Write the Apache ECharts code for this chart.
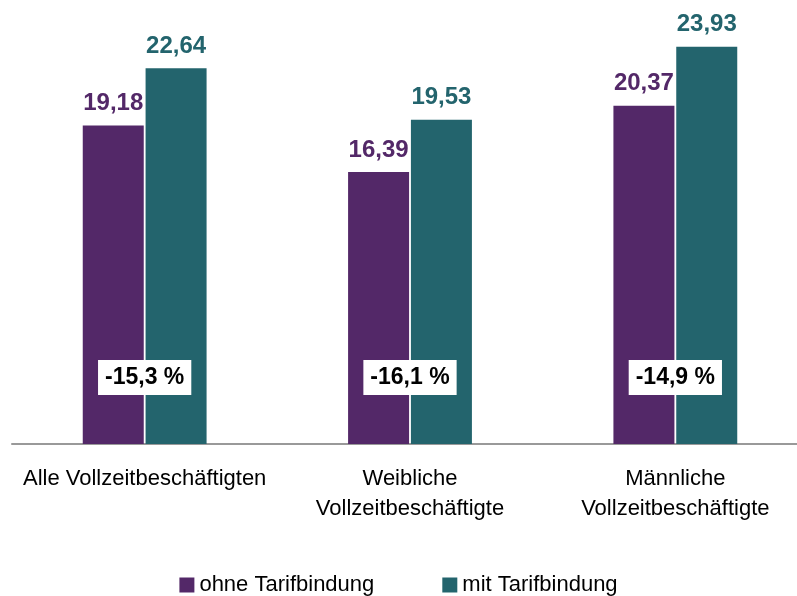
<!DOCTYPE html>
<html>
<head>
<meta charset="utf-8">
<script src="https://cdn.jsdelivr.net/npm/echarts@6/dist/echarts.min.js"></script>
<style>
  html, body { margin: 0; padding: 0; background: #fff; }
  #main { width: 797px; height: 596px; }
</style>
</head>
<body>
<div id="main"></div>
<script>
const categories = ['Alle Vollzeitbeschäftigten', 'Weibliche\nVollzeitbeschäftigte', 'Männliche\nVollzeitbeschäftigte']
const ohneTarif = [19.18, 16.39, 20.37]
const mitTarif = [22.64, 19.53, 23.93]
const gapLabels = ['-15,3 %', '-16,1 %', '-14,9 %']

const sans = "'Liberation Sans', Arial, sans-serif"
const fmt = (v) => v.toFixed(2).replace('.', ',')

const chart = echarts.init(document.getElementById('main'))

chart.setOption({
  animation: false,
  grid: { left: 12, width: 796, top: 29, bottom: 152, outerBoundsMode: 'none', containLabel: false },
  legend: {
    top: 569,
    left: 'center',
    itemWidth: 15,
    itemHeight: 15,
    itemGap: 68,
    icon: 'rect',
    data: ['ohne Tarifbindung', 'mit Tarifbindung'],
    textStyle: { fontSize: 22, color: '#000', fontFamily: sans },
  },
  xAxis: {
    type: 'category',
    data: categories,
    axisLine: { lineStyle: { color: '#999', width: 2 } },
    axisTick: { show: false },
    axisLabel: {
      interval: 0,
      fontSize: 22,
      color: '#000',
      margin: 20,
      lineHeight: 30,
      fontFamily: sans,
    },
  },
  yAxis: {
    type: 'value',
    min: 0,
    max: 25,
    show: false,
    splitLine: { show: false },
  },
  series: [
    {
      name: 'ohne Tarifbindung',
      type: 'bar',
      data: ohneTarif,
      barWidth: 61,
      barGap: '3%',
      itemStyle: { color: '#532868' },
      label: {
        show: true,
        position: 'top',
        distance: 10,
        formatter: (p) => fmt(p.value),
        color: '#532868',
        fontSize: 24,
        fontWeight: 'bold',
        fontFamily: sans,
      },
    },
    {
      name: 'mit Tarifbindung',
      type: 'bar',
      data: mitTarif,
      barWidth: 61,
      itemStyle: { color: '#23646d' },
      label: {
        show: true,
        position: 'top',
        distance: 10,
        formatter: (p) => fmt(p.value),
        color: '#23646d',
        fontSize: 24,
        fontWeight: 'bold',
        fontFamily: sans,
      },
    },
    {
      // white boxes with the pay gap, centred on each group
      type: 'scatter',
      symbolSize: 0,
      silent: true,
      data: gapLabels.map(() => 4.0),
      z: 10,
      itemStyle: { opacity: 1 },
      label: {
        show: true,
        position: 'inside',
        formatter: (p) => gapLabels[p.dataIndex],
        backgroundColor: '#ffffff',
        padding: [6, 7, 6, 7],
        color: '#000',
        fontSize: 23,
        fontWeight: 'bold',
        fontFamily: sans,
      },
    },
  ],
})
</script>
</body>
</html>
